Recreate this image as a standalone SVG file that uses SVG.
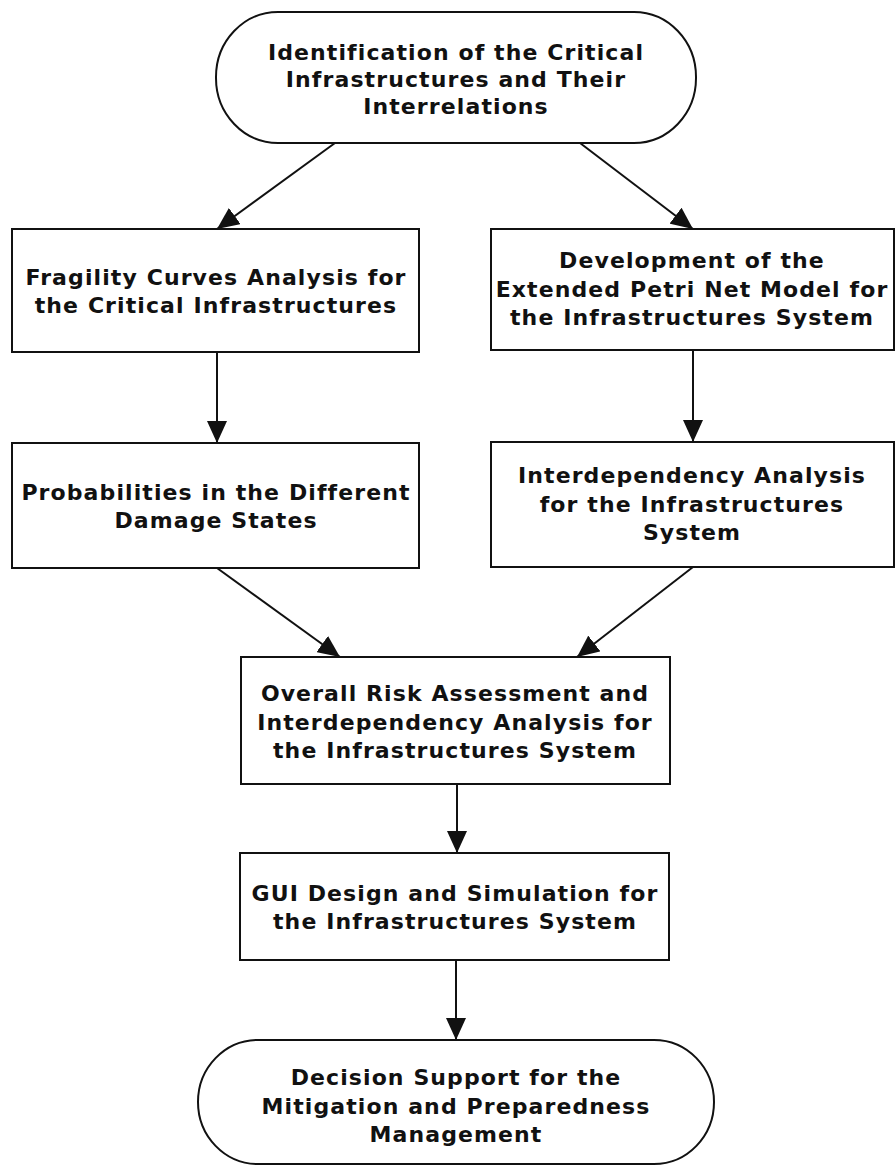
<svg xmlns="http://www.w3.org/2000/svg" width="896" height="1167" viewBox="0 0 896 1167">
<style>
.n{fill:#fff;stroke:#111;stroke-width:2}
.t{font-family:"DejaVu Sans",Verdana,sans-serif;font-weight:bold;font-size:22px;fill:#111;text-anchor:middle;letter-spacing:1.1px}
.c{stroke:#111;stroke-width:2;fill:none}
</style>
<defs>
<marker id="ah" markerUnits="userSpaceOnUse" markerWidth="22" markerHeight="20" refX="22" refY="10" orient="auto">
<path d="M0,0 L22,10 L0,20 Z" fill="#111"/>
</marker>
</defs>
<rect width="896" height="1167" fill="#fff"/>
<g id="connectors">
<line class="c" x1="335" y1="143" x2="217" y2="229" marker-end="url(#ah)"/>
<line class="c" x1="580" y1="143" x2="693" y2="229" marker-end="url(#ah)"/>
<line class="c" x1="217" y1="352" x2="217" y2="443" marker-end="url(#ah)"/>
<line class="c" x1="693" y1="350" x2="693" y2="442" marker-end="url(#ah)"/>
<line class="c" x1="217" y1="568" x2="340" y2="657" marker-end="url(#ah)"/>
<line class="c" x1="693" y1="567" x2="577" y2="657" marker-end="url(#ah)"/>
<line class="c" x1="457" y1="784" x2="457" y2="853" marker-end="url(#ah)"/>
<line class="c" x1="456" y1="960" x2="456" y2="1040" marker-end="url(#ah)"/>
</g>
<g id="n1">
<rect class="n" x="216" y="12" width="480" height="131" rx="62" ry="65"/>
<text class="t" x="456" y="60">Identification of the Critical</text>
<text class="t" x="456" y="87">Infrastructures and Their</text>
<text class="t" x="456" y="114">Interrelations</text>
</g>
<g id="n2">
<rect class="n" x="12" y="229" width="407" height="123"/>
<text class="t" x="216" y="285">Fragility Curves Analysis for</text>
<text class="t" x="216" y="313">the Critical Infrastructures</text>
</g>
<g id="n3">
<rect class="n" x="491" y="229" width="403" height="121"/>
<text class="t" x="692" y="268">Development of the</text>
<text class="t" x="692" y="297">Extended Petri Net Model for</text>
<text class="t" x="692" y="325">the Infrastructures System</text>
</g>
<g id="n4">
<rect class="n" x="12" y="443" width="407" height="125"/>
<text class="t" x="216" y="500">Probabilities in the Different</text>
<text class="t" x="216" y="528">Damage States</text>
</g>
<g id="n5">
<rect class="n" x="491" y="442" width="403" height="125"/>
<text class="t" x="692" y="483">Interdependency Analysis</text>
<text class="t" x="692" y="512">for the Infrastructures</text>
<text class="t" x="692" y="540">System</text>
</g>
<g id="n6">
<rect class="n" x="241" y="657" width="429" height="127"/>
<text class="t" x="455" y="701">Overall Risk Assessment and</text>
<text class="t" x="455" y="730">Interdependency Analysis for</text>
<text class="t" x="455" y="758">the Infrastructures System</text>
</g>
<g id="n7">
<rect class="n" x="240" y="853" width="429" height="107"/>
<text class="t" x="455" y="901">GUI Design and Simulation for</text>
<text class="t" x="455" y="929">the Infrastructures System</text>
</g>
<g id="n8">
<rect class="n" x="198" y="1040" width="516" height="124" rx="60" ry="62"/>
<text class="t" x="456" y="1085">Decision Support for the</text>
<text class="t" x="456" y="1114">Mitigation and Preparedness</text>
<text class="t" x="456" y="1142">Management</text>
</g>
</svg>
